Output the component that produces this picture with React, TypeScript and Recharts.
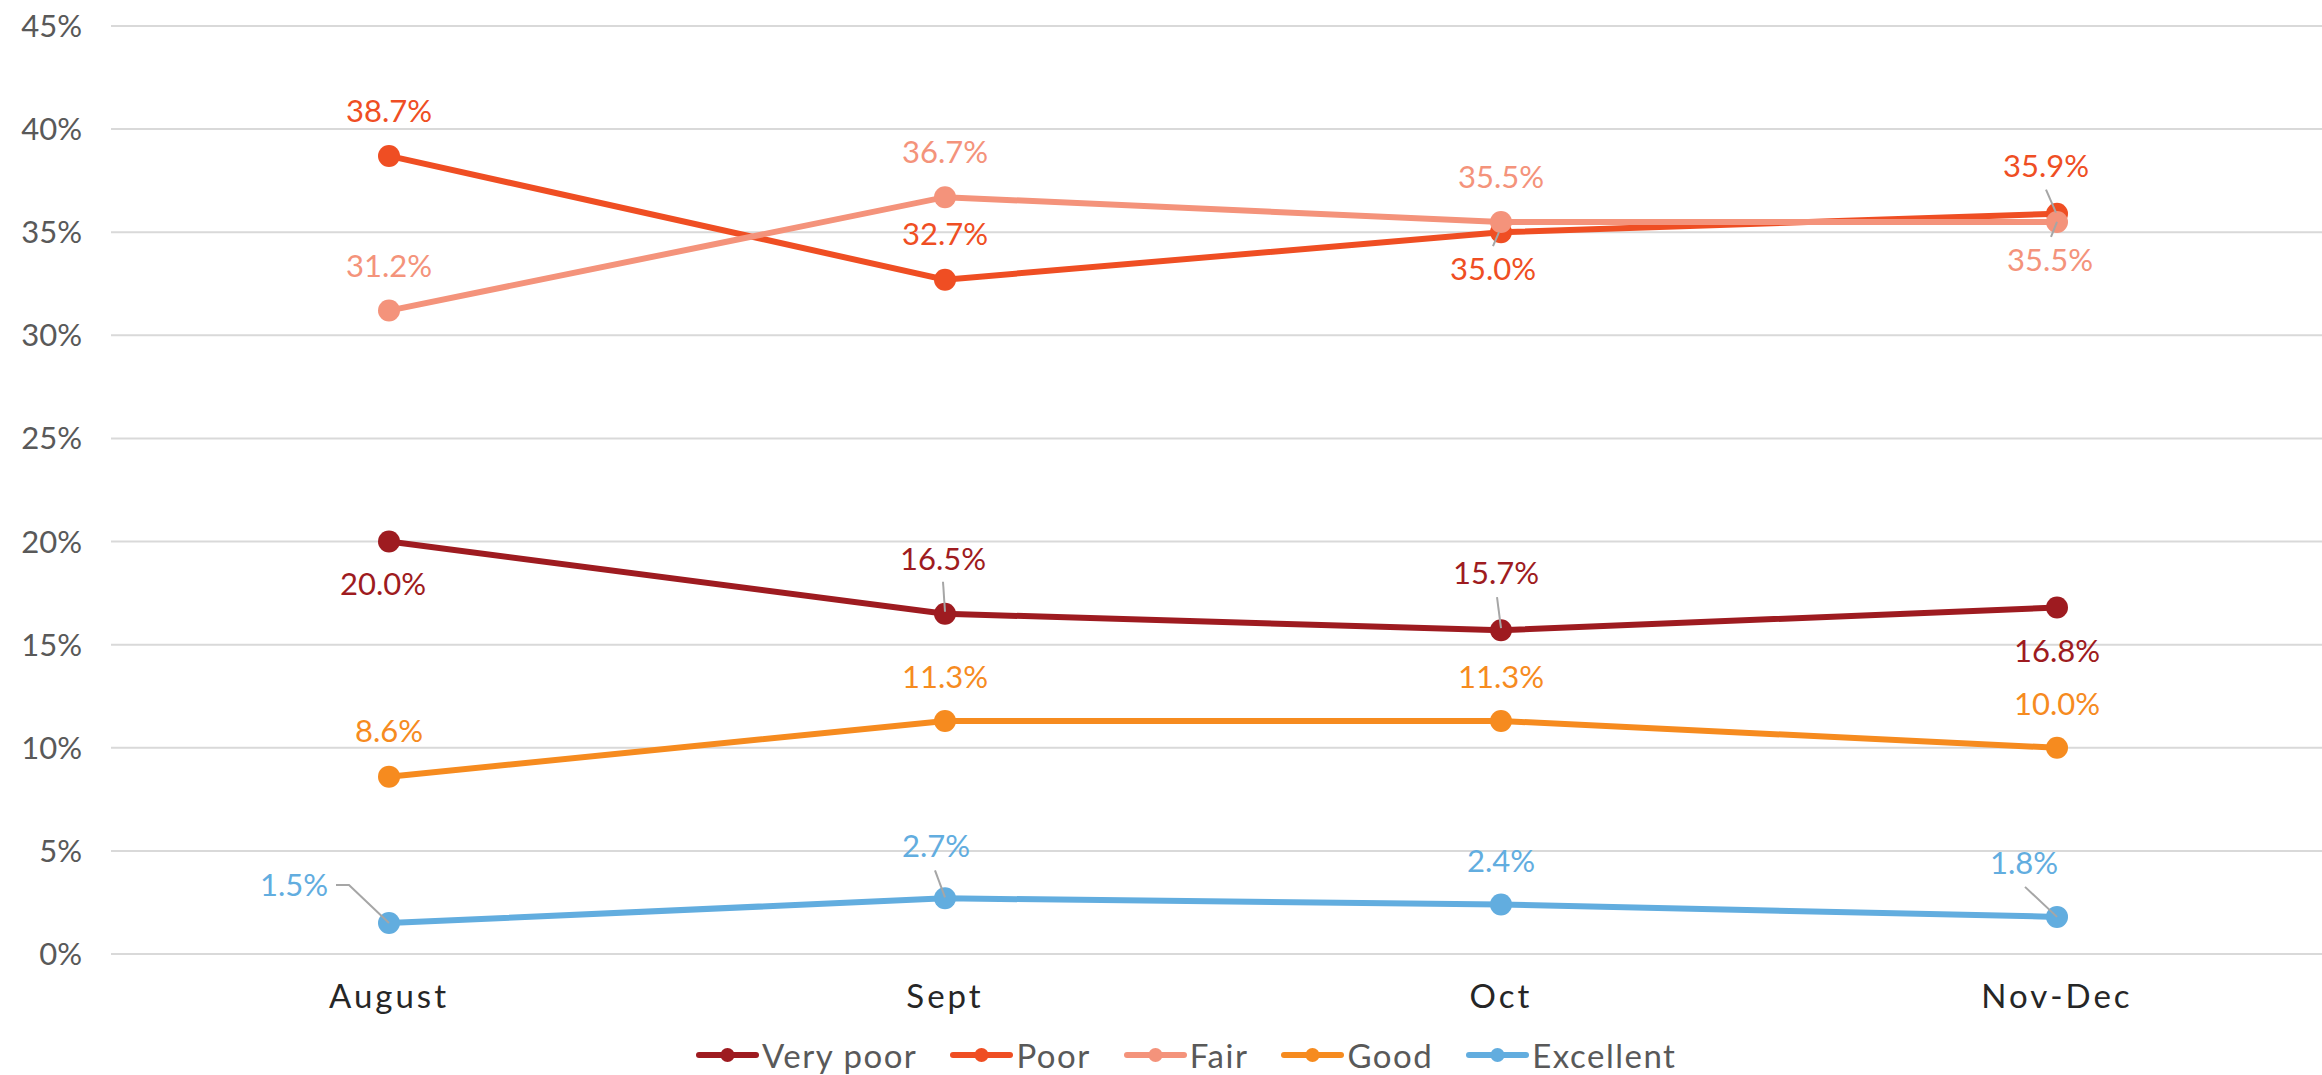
import { LineChart, Line, XAxis, YAxis, CartesianGrid, Legend, LabelList } from 'recharts';

const MONTHS = ['August', 'Sept', 'Oct', 'Nov-Dec'];
const VERY_POOR = [20.0, 16.5, 15.7, 16.8];
const POOR = [38.7, 32.7, 35.0, 35.9];
const FAIR = [31.2, 36.7, 35.5, 35.5];
const GOOD = [8.6, 11.3, 11.3, 10.0];
const EXCELLENT = [1.5, 2.7, 2.4, 1.8];
const Y_TICKS = [0, 5, 10, 15, 20, 25, 30, 35, 40, 45];

const FONT = 'Lato, "Open Sans", sans-serif';
const LEADER = '#A6A6A6';

// label offsets from each point (label centre) and optional leader polylines
type Place = { dx: number; dy: number; leader?: [number, number][] };

const VERY_POOR_LABELS: Place[] = [
  { dx: -6, dy: 43 },
  { dx: -2, dy: -55, leader: [[-2, -32], [0, -2]] },
  { dx: -5, dy: -57, leader: [[-4, -33], [0, -2]] },
  { dx: 0, dy: 44 },
];
const POOR_LABELS: Place[] = [
  { dx: 0, dy: -45 },
  { dx: 0, dy: -46 },
  { dx: -8, dy: 37, leader: [[-8, 14], [-2, 0]] },
  { dx: -11, dy: -48, leader: [[-11, -24], [-1, -1]] },
];
const FAIR_LABELS: Place[] = [
  { dx: 0, dy: -44 },
  { dx: 0, dy: -45 },
  { dx: 0, dy: -45 },
  { dx: -7, dy: 38, leader: [[-6, 15], [0, 0]] },
];
const GOOD_LABELS: Place[] = [
  { dx: 0, dy: -45 },
  { dx: 0, dy: -44 },
  { dx: 0, dy: -44 },
  { dx: 0, dy: -44 },
];
const EXCELLENT_LABELS: Place[] = [
  { dx: -95, dy: -38, leader: [[-53, -38], [-40, -38], [0, 0]] },
  { dx: -9, dy: -52, leader: [[-10, -28], [0, -1]] },
  { dx: 0, dy: -43 },
  { dx: -33, dy: -54, leader: [[-32, -30], [0, 0]] },
];

const SERIES = [
  { key: 'veryPoor', name: 'Very poor', color: '#9E1B20', places: VERY_POOR_LABELS },
  { key: 'poor', name: 'Poor', color: '#EF4E23', places: POOR_LABELS },
  { key: 'fair', name: 'Fair', color: '#F4937B', places: FAIR_LABELS },
  { key: 'good', name: 'Good', color: '#F68B1F', places: GOOD_LABELS },
  { key: 'excellent', name: 'Excellent', color: '#62ADDF', places: EXCELLENT_LABELS },
];

const data = MONTHS.map((month, i) => ({
  month,
  veryPoor: VERY_POOR[i],
  poor: POOR[i],
  fair: FAIR[i],
  good: GOOD[i],
  excellent: EXCELLENT[i],
}));

const makeLabel = (color: string, places: Place[]) => (props: any) => {
  const x = props.x ?? props.viewBox?.x;
  const y = props.y ?? props.viewBox?.y;
  const p = places[props.index];
  if (x == null || y == null || !p) return null;
  return (
    <g>
      {p.leader && (
        <polyline
          points={p.leader.map(([a, b]) => `${x + a},${y + b}`).join(' ')}
          fill="none"
          stroke={LEADER}
          strokeWidth={2}
        />
      )}
      <text
        x={x + p.dx}
        y={y + p.dy}
        dy="0.35em"
        textAnchor="middle"
        fill={color}
        fontSize={31}
        fontFamily={FONT}
      >
        {Number(props.value).toFixed(1)}%
      </text>
    </g>
  );
};

const renderLegend = () => (
  <div style={{ display: 'flex', alignItems: 'center', fontFamily: FONT, fontSize: 33, letterSpacing: 1.5, color: '#595959', height: 40 }}>
    {SERIES.map((s) => (
      <div key={s.key} style={{ display: 'flex', alignItems: 'center', marginRight: 33 }}>
        <svg width={63} height={20}>
          <line x1={3} x2={60} y1={10} y2={10} stroke={s.color} strokeWidth={6} strokeLinecap="round" />
          <circle cx={31.5} cy={10} r={7} fill={s.color} />
        </svg>
        <span style={{ marginLeft: 3 }}>{s.name}</span>
      </div>
    ))}
  </div>
);

export default function App() {
  return (
    <div style={{ position: 'absolute', left: 0, top: 0, width: 2322, height: 1075, overflow: 'hidden', background: '#fff' }}>
      <LineChart width={2340} height={1075} data={data} margin={{ top: 26, right: 5, left: 0, bottom: 71 }}>
        <CartesianGrid vertical={false} stroke="#D9D9D9" strokeWidth={2} />
        <XAxis
          dataKey="month"
          axisLine={false}
          tickLine={false}
          tickSize={0}
          tickMargin={31}
          height={50}
          padding={{ left: 278, right: 278 }}
          tick={{ fill: '#262626', fontSize: 33, fontFamily: FONT, letterSpacing: 3 }}
          interval={0}
        />
        <YAxis
          domain={[0, 45]}
          ticks={Y_TICKS}
          width={111}
          axisLine={false}
          tickLine={false}
          tickSize={0}
          tickMargin={29}
          tickFormatter={(v) => `${v}%`}
          tick={{ fill: '#595959', fontSize: 31, fontFamily: FONT }}
        />
        <Legend
          verticalAlign="middle"
          align="center"
          content={renderLegend}
          wrapperStyle={{ top: 1035, left: 696, width: 1300, height: 40 }}
        />
        {SERIES.map((s) => (
          <Line
            key={s.key}
            type="linear"
            dataKey={s.key}
            name={s.name}
            stroke={s.color}
            strokeWidth={6}
            dot={{ r: 11, fill: s.color, stroke: s.color, strokeWidth: 0 }}
            activeDot={false}
            isAnimationActive={false}
          >
            <LabelList dataKey={s.key} content={makeLabel(s.color, s.places)} />
          </Line>
        ))}
      </LineChart>
    </div>
  );
}
